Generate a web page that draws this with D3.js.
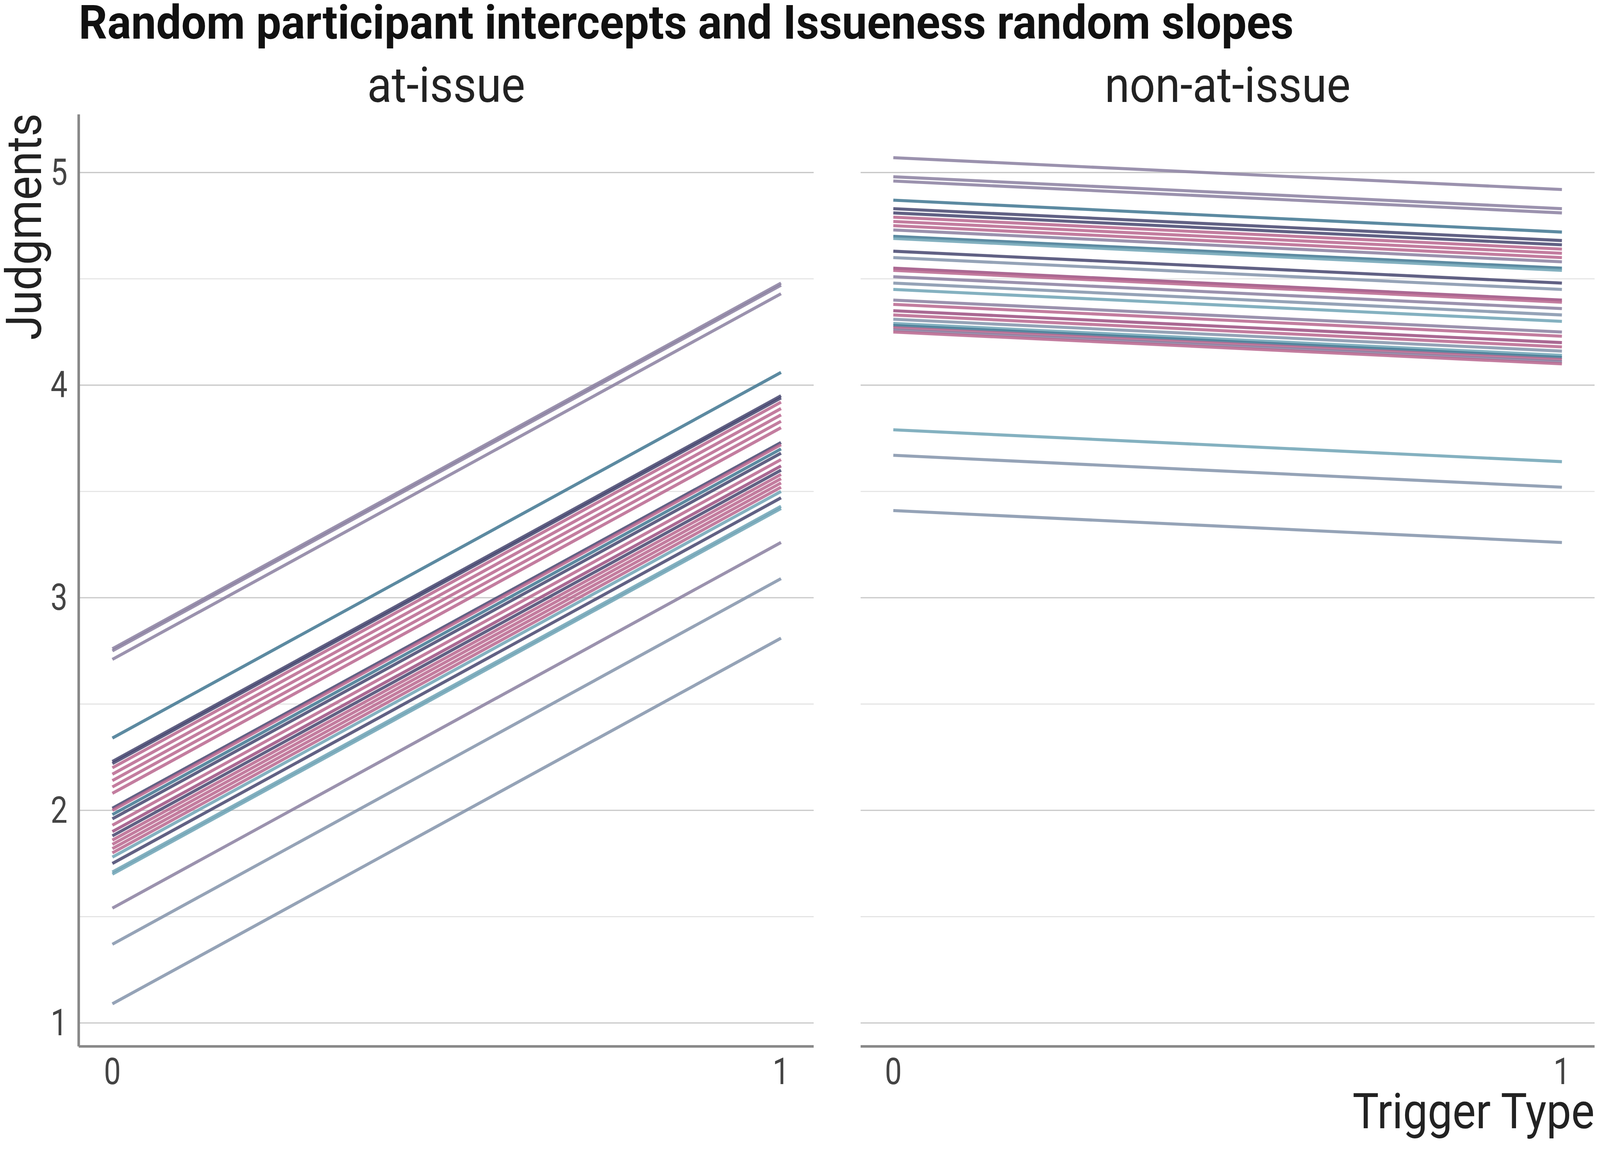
<!DOCTYPE html>
<html><head><meta charset="UTF-8">
<script src="https://d3js.org/d3.v7.min.js"></script>
<style>body{margin:0;background:#fff}text{font-family:Roboto,"DejaVu Sans",sans-serif}</style>
</head><body><svg id="chart"></svg><script>
const panels = ['at-issue', 'non-at-issue'];
const yTicks = [1, 2, 3, 4, 5];
const yMinor = [1.5, 2.5, 3.5, 4.5];
const xTicks = [0, 1];
const palette = ['#8a7fa0', '#3f7590', '#45456e', '#b8668e', '#6fa3b5', '#8393aa', '#9b4f80'];

// at-issue: judgments at trigger type 0 and 1
const atStart = [2.76, 2.75, 2.71, 2.34, 2.23, 2.22, 2.20, 2.17, 2.14, 2.11, 2.08, 2.01, 2.00, 1.98, 1.96, 1.93, 1.90, 1.88, 1.86, 1.84, 1.82, 1.80, 1.78, 1.75, 1.71, 1.70, 1.54, 1.37, 1.09];
const atEnd = [4.48, 4.47, 4.43, 4.06, 3.95, 3.94, 3.92, 3.89, 3.86, 3.83, 3.80, 3.73, 3.72, 3.70, 3.68, 3.65, 3.62, 3.60, 3.58, 3.56, 3.54, 3.52, 3.50, 3.47, 3.43, 3.42, 3.26, 3.09, 2.81];
const atColor = [0, 0, 0, 1, 2, 2, 3, 3, 3, 3, 3, 2, 3, 1, 2, 3, 6, 2, 3, 3, 3, 3, 4, 2, 4, 4, 0, 5, 5];

// non-at-issue
const nonStart = [5.07, 4.98, 4.96, 4.87, 4.83, 4.81, 4.79, 4.77, 4.75, 4.73, 4.70, 4.69, 4.63, 4.60, 4.55, 4.54, 4.51, 4.48, 4.45, 4.40, 4.38, 4.35, 4.33, 4.31, 4.29, 4.28, 4.27, 4.26, 4.25, 3.79, 3.67, 3.41];
const nonEnd = [4.92, 4.83, 4.81, 4.72, 4.68, 4.66, 4.64, 4.62, 4.60, 4.58, 4.55, 4.54, 4.48, 4.45, 4.40, 4.39, 4.36, 4.33, 4.30, 4.25, 4.23, 4.20, 4.18, 4.16, 4.14, 4.13, 4.12, 4.11, 4.10, 3.64, 3.52, 3.26];
const nonColor = [0, 0, 0, 1, 2, 2, 3, 3, 3, 0, 1, 4, 2, 5, 6, 3, 0, 5, 4, 0, 3, 6, 3, 5, 4, 1, 3, 0, 3, 4, 5, 5];

const svg = d3.select('#chart').attr('width', 4200).attr('height', 3000)
  .attr('viewBox', '0 0 1607 1148');

const condensed = (sel, x, y, s, anchor, sx) => sel.append('text')
  .attr('transform', `translate(${x},${y}) scale(${sx || 0.82},1)`).attr('text-anchor', anchor || 'start').text(s);

const y = d3.scaleLinear().domain([1, 5]).range([1002, 169]);
const panelBox = [{ x0: 77, x1: 797, a: 110, b: 765 }, { x0: 843, x1: 1562, a: 875, b: 1530 }];
const series = [[atStart, atEnd, atColor], [nonStart, nonEnd, nonColor]];

panels.forEach((name, p) => {
  const box = panelBox[p];
  const x = d3.scaleLinear().domain([0, 1]).range([box.a, box.b]);
  const g = svg.append('g');
  g.selectAll('.minor').data(yMinor).join('line')
    .attr('x1', box.x0).attr('x2', box.x1).attr('y1', d => y(d)).attr('y2', d => y(d))
    .attr('stroke', '#e2e2e2').attr('stroke-width', 1);
  g.selectAll('.major').data(yTicks).join('line')
    .attr('x1', box.x0).attr('x2', box.x1).attr('y1', d => y(d)).attr('y2', d => y(d))
    .attr('stroke', '#c8c8c8').attr('stroke-width', 1.2);

  const [s, e, c] = series[p];
  g.selectAll('.ln').data(s.map((v, i) => [v, e[i], c[i]])).join('line')
    .attr('x1', x(0)).attr('x2', x(1)).attr('y1', d => y(d[0])).attr('y2', d => y(d[1]))
    .attr('stroke', d => palette[d[2]]).attr('stroke-opacity', 0.85).attr('stroke-width', 3);

  g.append('line').attr('x1', box.x0).attr('x2', box.x1).attr('y1', 1025).attr('y2', 1025)
    .attr('stroke', '#888').attr('stroke-width', 2.5);
  xTicks.forEach(t => condensed(g, x(t), 1062, t, 'middle').attr('font-size', 36).attr('fill', '#444'));
  condensed(g, (box.x0 + box.x1) / 2, 100, name, 'middle', 0.92).attr('font-size', 48).attr('fill', '#222');
});

svg.append('line').attr('x1', 77).attr('x2', 77).attr('y1', 112).attr('y2', 1025)
  .attr('stroke', '#888').attr('stroke-width', 2.5);
yTicks.forEach(t => condensed(svg, 66, y(t) + 12, t, 'end').attr('font-size', 36).attr('fill', '#444'));

svg.append('text').attr('transform', 'translate(40,222) rotate(-90) scale(0.92,1)')
  .attr('text-anchor', 'middle').attr('font-size', 48).attr('fill', '#222').text('Judgments');
condensed(svg, 1562, 1105, 'Trigger Type', 'end', 0.9).attr('font-size', 48).attr('fill', '#222');
condensed(svg, 77, 38, 'Random participant intercepts and Issueness random slopes', 'start', 0.95)
  .attr('font-size', 46).attr('font-weight', 'bold').attr('fill', '#111');
</script></body></html>
